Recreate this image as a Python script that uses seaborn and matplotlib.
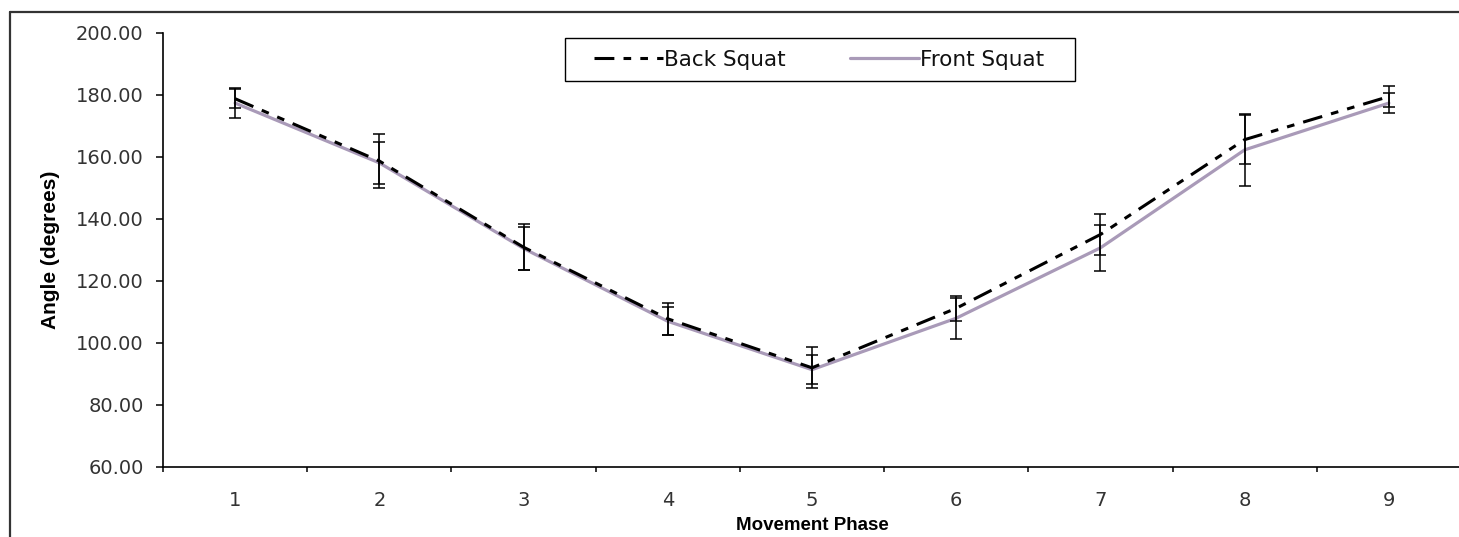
import matplotlib
matplotlib.use("Agg")
import matplotlib.pyplot as plt
import seaborn as sns
import pandas as pd
from matplotlib.lines import Line2D
from matplotlib.patches import Rectangle
from matplotlib.ticker import FormatStrFormatter, FixedLocator

# ---- data ----
phases = [1, 2, 3, 4, 5, 6, 7, 8, 9]
back_mean = [178.8, 158.7, 130.9, 107.8, 92.0, 111.2, 135.0, 165.6, 179.5]
back_sd = [3.1, 8.6, 7.4, 5.2, 6.6, 4.1, 6.7, 7.9, 3.4]
front_mean = [177.4, 158.1, 130.5, 107.0, 91.4, 108.0, 130.7, 162.3, 177.4]
front_sd = [4.8, 6.8, 6.8, 4.5, 4.7, 6.6, 7.4, 11.6, 3.3]
y_ticks = [60, 80, 100, 120, 140, 160, 180, 200]
series_names = ["Back Squat", "Front Squat"]

sns.set_theme(style="white")
plt.rcParams["font.family"] = ["DejaVu Sans"]

W, H = 1459, 537
fig = plt.figure(figsize=(W / 100, H / 100), dpi=100)
fig.patch.set_facecolor("white")

ax_l, ax_r, ax_t, ax_b = 163, 1461, 33, 467
ax = fig.add_axes([ax_l / W, (H - ax_b) / H, (ax_r - ax_l) / W, (ax_b - ax_t) / H])
ax.set_facecolor("white")

df_back = pd.DataFrame({"phase": phases, "angle": back_mean})
df_front = pd.DataFrame({"phase": phases, "angle": front_mean})

front_color = "#A99AB8"

sns.lineplot(data=df_front, x="phase", y="angle", ax=ax, color=front_color,
             linewidth=2.3, label=series_names[1], legend=False, zorder=3)
front_line = ax.lines[-1]
sns.lineplot(data=df_back, x="phase", y="angle", ax=ax, color="black",
             linewidth=2.2, label=series_names[0], legend=False, zorder=4)
back_line = ax.lines[-1]
back_line.set_dashes((6.5, 3, 2.5, 3, 2.5, 3))

for m, s in ((back_mean, back_sd), (front_mean, front_sd)):
    ax.errorbar(phases, m, yerr=s, fmt="none", ecolor="black", elinewidth=1.1,
                capsize=4.5, capthick=1.1, zorder=5)

ax.set_xlim(0.5, 9.5)
ax.set_ylim(60, 200)
ax.set_yticks(y_ticks)
ax.yaxis.set_major_formatter(FormatStrFormatter("%.2f"))
ax.set_xticks(phases)
ax.set_xticklabels([str(p) for p in phases])
ax.xaxis.set_minor_locator(FixedLocator([p + 0.5 for p in [0] + phases]))

for side in ("top", "right"):
    ax.spines[side].set_visible(False)
for side in ("left", "bottom"):
    ax.spines[side].set_color("black")
    ax.spines[side].set_linewidth(1.2)

ax.tick_params(axis="y", which="major", direction="out", length=5, width=1.1,
               color="black", labelsize=14, labelcolor="#333333", pad=9, left=True)
ax.tick_params(axis="x", which="major", length=0, labelsize=14,
               labelcolor="#333333", pad=17)
ax.tick_params(axis="x", which="minor", direction="out", length=3.6, width=1.1,
               color="black", bottom=True)

ax.set_ylabel("Angle (degrees)", fontsize=15, fontweight="bold", color="black",
              family=["Liberation Sans", "DejaVu Sans"])
ax.yaxis.set_label_coords((60 - ax_l) / (ax_r - ax_l), 0.5)
ax.set_xlabel("Movement Phase", fontsize=13.5, fontweight="bold", color="black",
              family=["Liberation Sans", "DejaVu Sans"])
ax.xaxis.set_label_coords(0.5, (ax_b - 517) / (ax_b - ax_t))

# legend: entries placed inside a separately drawn box
handles = [back_line, front_line]
leg = ax.legend(handles, series_names, loc="center left",
                bbox_to_anchor=((594 - ax_l) / (ax_r - ax_l), (ax_b - 60) / (ax_b - ax_t)),
                ncol=2, frameon=False, fontsize=15.5,
                handlelength=3.2, handletextpad=0.05, columnspacing=3.0,
                borderpad=0, borderaxespad=0)
for t in leg.get_texts():
    t.set_color("#111111")
fig.add_artist(Rectangle((565 / W, 1 - 81 / H), 510 / W, 43 / H, transform=fig.transFigure,
                         fill=False, edgecolor="black", linewidth=1.0))

# outer chart-area border (left and top edges visible)
fig.add_artist(Line2D([10 / W, 10 / W], [0, 1 - 12 / H], transform=fig.transFigure,
                      color="#333333", linewidth=1.6))
fig.add_artist(Line2D([10 / W, 1], [1 - 12 / H, 1 - 12 / H], transform=fig.transFigure,
                      color="#333333", linewidth=1.6))

fig.savefig("out.png", dpi=100, facecolor="white")
